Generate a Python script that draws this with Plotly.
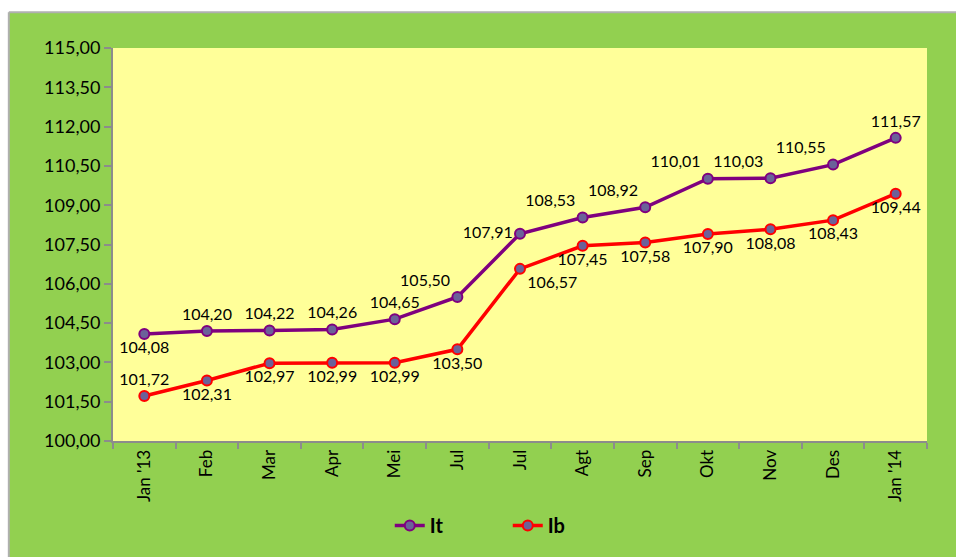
import plotly.graph_objects as go

months = ["Jan '13", "Feb", "Mar", "Apr", "Mei", "Jul", "Jul", "Agt", "Sep", "Okt", "Nov", "Des", "Jan '14"]
it_values = [104.08, 104.20, 104.22, 104.26, 104.65, 105.50, 107.91, 108.53, 108.92, 110.01, 110.03, 110.55, 111.57]
ib_values = [101.72, 102.31, 102.97, 102.99, 102.99, 103.50, 106.57, 107.45, 107.58, 107.90, 108.08, 108.43, 109.44]
y_ticks = [100.0, 101.5, 103.0, 104.5, 106.0, 107.5, 109.0, 110.5, 112.0, 113.5, 115.0]

# label placement, per point
it_pos = ["bottom center", "top center", "top center", "top center", "top center", "top left",
          "middle left", "top left", "top left", "top left", "top left", "top left", "top center"]
ib_pos = ["top center"] + ["bottom center"] * 5 + ["bottom right"] + ["bottom center"] * 6

GREEN = "#92D050"
YELLOW = "#FFFF99"
AXIS = "#8C8C8C"
FONT = "Lato"

x = list(range(len(months)))

fig = go.Figure()
fig.add_trace(go.Scatter(
    x=x, y=it_values, name="It", mode="lines+markers+text",
    line=dict(color="#7F007F", width=3.5),
    marker=dict(size=10, color="#6B6199", line=dict(color="#7F007F", width=2)),
    texttemplate="%{y:.2f}", textposition=it_pos,
    textfont=dict(family=FONT, size=16, color="#000000"),
))
fig.add_trace(go.Scatter(
    x=x, y=ib_values, name="Ib", mode="lines+markers+text",
    line=dict(color="#FF0000", width=3.5),
    marker=dict(size=10, color="#6B6199", line=dict(color="#FF0000", width=2)),
    texttemplate="%{y:.2f}", textposition=ib_pos,
    textfont=dict(family=FONT, size=16, color="#000000"),
))

fig.update_xaxes(
    range=[-0.5, len(months) - 0.5], tickvals=x, ticktext=months, tickangle=-90,
    ticks="", showgrid=False, zeroline=False,
    showline=True, linecolor=AXIS, linewidth=2,
    minor=dict(tick0=-0.5, dtick=1, ticks="outside", ticklen=6, tickcolor=AXIS, tickwidth=2, showgrid=False),
    tickfont=dict(family=FONT, size=17, color="#000000"),
)
fig.update_yaxes(
    range=[100, 115], tickvals=y_ticks, tickformat=".2f",
    ticks="outside", ticklen=7, tickcolor=AXIS, tickwidth=2,
    showgrid=False, zeroline=False,
    showline=True, linecolor=AXIS, linewidth=2,
    tickfont=dict(family=FONT, size=18, color="#000000"),
)

# white strips above/left of the green chart box, plus its grey border
fig.add_shape(type="rect", xref="paper", yref="paper", x0=-0.2, x1=1.1, y0=1.091, y1=1.2,
              fillcolor="white", line_width=0)
fig.add_shape(type="rect", xref="paper", yref="paper", x0=-0.2, x1=-0.128, y0=-0.4, y1=1.2,
              fillcolor="white", line_width=0)
fig.add_shape(type="line", xref="paper", yref="paper", x0=-0.128, x1=1.1, y0=1.091, y1=1.091,
              line=dict(color="#B0B0B0", width=2))
fig.add_shape(type="line", xref="paper", yref="paper", x0=-0.128, x1=-0.128, y0=-0.4, y1=1.091,
              line=dict(color="#B0B0B0", width=2))

fig.update_layout(
    width=956, height=557,
    margin=dict(l=113, r=29, t=48, b=114),
    paper_bgcolor=GREEN, plot_bgcolor=YELLOW,
    separators=",.",
    font=dict(family=FONT, color="#000000"),
    showlegend=True,
    legend=dict(orientation="h", x=0.34, xanchor="left", y=-0.215, yanchor="middle",
                entrywidth=73, bgcolor="rgba(0,0,0,0)",
                font=dict(family=FONT, size=20, color="#000000", weight="bold")),
)

# page margin off so the figure fills the window
fig.write_html("out.html", config={"displayModeBar": False},
               post_script="document.body.style.margin='0';document.body.style.overflow='hidden';")
